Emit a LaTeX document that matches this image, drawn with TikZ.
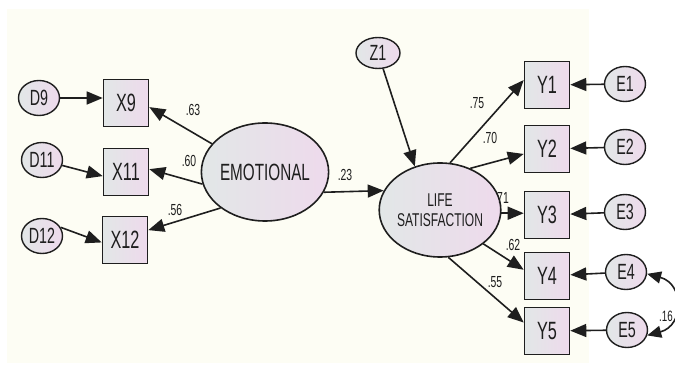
\documentclass[tikz,border=0pt]{standalone}
\usepackage{fontspec}
\setmainfont{Liberation Sans}[FakeStretch=0.65]
\usetikzlibrary{shapes.geometric,arrows.meta}
\definecolor{cream}{RGB}{253,253,244}
\definecolor{fillL}{RGB}{226,231,231}
\definecolor{fillR}{RGB}{238,218,236}
\definecolor{ink}{RGB}{30,30,30}
\tikzset{
  obs/.style={draw=ink, line width=1.6pt, rectangle, minimum width=45pt, minimum height=47pt,
    inner sep=0pt, left color=fillL, right color=fillR, text=ink, font=\fontsize{25}{25}\selectfont},
  err/.style={draw=ink, line width=1.4pt, ellipse, minimum width=41pt, minimum height=35pt,
    inner sep=0pt, left color=fillL, right color=fillR, text=ink, font=\fontsize{22}{22}\selectfont},
  lat/.style={draw=ink, line width=1.6pt, ellipse, minimum width=116pt, minimum height=98pt,
    inner sep=0pt, left color=fillL, right color=fillR, text=ink, align=center},
  edge/.style={draw=ink, line width=1.6pt, -{Triangle[length=16pt,width=13pt]}},
  coef/.style={text=ink, inner sep=0pt, font=\fontsize{16}{16}\selectfont}
}
\begin{document}
\begin{tikzpicture}[x=1pt,y=-1pt]
\useasboundingbox (0,0) rectangle (675,371);
\fill[cream] (7,9) rectangle (589,363);
% left side
\node[err] (d9)  at (39,98)  {D9};
\node[err] (d11) at (42,160) {D11};
\node[err] (d12) at (42,236) {D12};
\node[obs] (x9)  at (126,103) {X9};
\node[obs] (x11) at (126,172) {X11};
\node[obs] (x12) at (125,240) {X12};
\node[lat, font=\fontsize{23.5}{23.5}\selectfont] (emo) at (265,172) {EMOTIONAL};
% right side
\node[err, minimum width=44pt, minimum height=31pt] (z1) at (378,53) {Z1};
\node[lat, minimum height=94pt, font=\fontsize{18.5}{20}\selectfont] (life) at (440,210) {LIFE\\SATISFACTION};
\node[obs] (y1) at (547,85)  {Y1};
\node[obs] (y2) at (547,149) {Y2};
\node[obs] (y3) at (547,215) {Y3};
\node[obs] (y4) at (547,276) {Y4};
\node[obs] (y5) at (547,331) {Y5};
\node[err] (e1) at (625,84)  {E1};
\node[err] (e2) at (625,147) {E2};
\node[err] (e3) at (625,212) {E3};
\node[err] (e4) at (626,272) {E4};
\node[err] (e5) at (627,330) {E5};
% edges left
\draw[edge] (d9.east) -- (d9.east -| x9.west);
\draw[edge] (d11.-15) -- (x11.190);
\draw[edge] (d12.25) -- (x12.186);
\draw[edge] (emo.152) -- (x9.-10);
\draw[edge] (emo.191) -- (x11.7);
\draw[edge] (emo.219) -- (x12.23);
\draw[edge] (emo.-19) -- (life.161);
% edges right
\draw[edge] (z1) -- (life.120);
\draw[edge] (life.78) -- (y1.168);
\draw[edge] (life.54) -- (y2.192);
\draw[edge] (life.-3) -- (life.-3 -| y3.west);
\draw[edge] (life.-38) -- (y4.165);
\draw[edge] (life.-80) -- (y5.160);
\draw[edge] (e1) -- (y1);
\draw[edge] (e2) -- (y2);
\draw[edge] (e3) -- (y3);
\draw[edge] (e4) -- (y4);
\draw[edge] (e5) -- (y5);
\draw[draw=ink, line width=1.6pt, {Triangle[length=14pt,width=12pt]}-{Triangle[length=14pt,width=12pt]}]
  (e4.-5) to[out=-15,in=15,looseness=1.6] (e5.-15);
% coefficients
\node[coef] (c63) at (193,110) {.63};
\node[coef] (c60) at (189,161) {.60};
\node[coef] (c56) at (175,210) {.56};
\node[coef] (c23) at (345,175) {.23};
\node[coef] (c75) at (477,103) {.75};
\node[coef] (c70) at (490,138) {.70};
\node[coef] (c71) at (503,198) {71};
\node[coef] (c62) at (513,245) {.62};
\node[coef] (c55) at (495,282) {.55};
\node[coef, anchor=west, font=\fontsize{15}{15}\selectfont] (c16) at (659,316) {.16};
\end{tikzpicture}
\end{document}
